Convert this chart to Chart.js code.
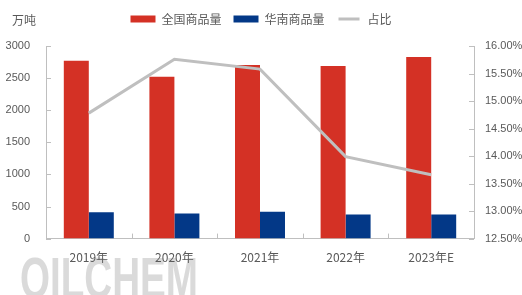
<!DOCTYPE html>
<html>
<head>
<meta charset="utf-8">
<script src="https://cdn.jsdelivr.net/npm/chart.js@4"></script>
<style>
  html, body { margin: 0; padding: 0; background: #fff; }
  #wrap { width: 522px; height: 295px; position: relative; }
</style>
</head>
<body>
<div id="wrap"><canvas id="chart"></canvas></div>
<script>
// data
const years = ['2019年', '2020年', '2021年', '2022年', '2023年E'];
const nationalVolume = [2770, 2520, 2705, 2690, 2830];
const southChinaVolume = [410, 390, 420, 375, 375];
const shareRatio = [14.78, 15.76, 15.58, 13.99, 13.66];

const TEXT = '#595959';
const AXIS = '#BFBFBF';
const numFont = { family: 'Liberation Sans, DejaVu Sans, sans-serif', size: 11 };
const cjkFont = { family: 'Noto Sans CJK SC, sans-serif', size: 12 };

// extra room under the legend
const legendGap = {
  id: 'legendGap',
  afterInit(chart) {
    const fit = chart.legend.fit;
    chart.legend.fit = function () {
      fit.call(this);
      this.height += 11;
    };
  }
};

// small inward tick marks, plus the unit label and the watermark
const decorations = {
  id: 'decorations',
  beforeDraw(chart) {
    const c = chart.ctx;
    c.save();
    c.font = 'bold 58px Liberation Sans, Arial, sans-serif';
    const w = c.measureText('OILCHEM').width;
    const g = c.createLinearGradient(0, 240, 0, 284);
    g.addColorStop(0, '#dadada');
    g.addColorStop(1, '#f8f8f8');
    c.fillStyle = g;
    c.translate(20, 282);
    c.scale(178 / w, 1);
    c.fillText('OILCHEM', 0, 0);
    c.restore();
  },
  afterDraw(chart) {
    const c = chart.ctx;
    const { y, y1 } = chart.scales;
    const area = chart.chartArea;
    c.save();
    c.strokeStyle = AXIS;
    c.lineWidth = 1;
    c.beginPath();
    y.ticks.forEach((t, i) => {
      const py = Math.round(y.getPixelForTick(i)) + 0.5;
      c.moveTo(area.left, py); c.lineTo(area.left + 5, py);
    });
    y1.ticks.forEach((t, i) => {
      const py = Math.round(y1.getPixelForTick(i)) + 0.5;
      c.moveTo(area.right - 5, py); c.lineTo(area.right, py);
    });
    const step = (area.right - area.left) / years.length;
    for (let i = 1; i < years.length; i++) {
      const px = Math.round(area.left + step * i) + 0.5;
      c.moveTo(px, area.bottom); c.lineTo(px, area.bottom - 5);
    }
    c.stroke();
    c.fillStyle = TEXT;
    c.font = '12px Noto Sans CJK SC, sans-serif';
    c.textBaseline = 'middle';
    c.fillText('万吨', 12, 20);
    c.restore();
  }
};

new Chart(document.getElementById('chart'), {
  type: 'bar',
  data: {
    labels: years,
    datasets: [
      {
        label: '全国商品量',
        data: nationalVolume,
        backgroundColor: '#D43125',
        yAxisID: 'y',
        order: 2
      },
      {
        label: '华南商品量',
        data: southChinaVolume,
        backgroundColor: '#033887',
        yAxisID: 'y',
        order: 2
      },
      {
        type: 'line',
        label: '占比',
        data: shareRatio,
        borderColor: AXIS,
        backgroundColor: AXIS,
        borderWidth: 3,
        pointRadius: 0,
        tension: 0,
        yAxisID: 'y1',
        order: 1
      }
    ]
  },
  options: {
    responsive: true,
    maintainAspectRatio: false,
    animation: false,
    devicePixelRatio: 1,
    layout: { padding: { top: 1, bottom: 18, left: 0, right: 0 } },
    datasets: { bar: { categoryPercentage: 0.584, barPercentage: 1 } },
    plugins: {
      tooltip: { enabled: false },
      legend: {
        position: 'top',
        labels: {
          color: TEXT,
          font: cjkFont,
          boxWidth: 25,
          boxHeight: 7,
          padding: 12,
          sort: (a, b) => a.datasetIndex - b.datasetIndex,
          generateLabels(chart) {
            const items = Chart.defaults.plugins.legend.labels.generateLabels(chart);
            items.forEach(it => {
              if (it.text === '占比') { it.strokeStyle = '#fff'; it.lineWidth = 4; }
              else { it.lineWidth = 0; }
            });
            return items;
          }
        }
      }
    },
    scales: {
      x: {
        grid: { display: false, drawTicks: false },
        border: { color: AXIS },
        ticks: { color: TEXT, font: cjkFont, padding: 12 }
      },
      y: {
        position: 'left',
        min: 0,
        max: 3000,
        afterFit(s) { s.width = 46; },
        grid: { display: false, drawTicks: false },
        border: { color: AXIS },
        ticks: { stepSize: 500, color: TEXT, font: numFont, padding: 16, callback: v => String(v) }
      },
      y1: {
        position: 'right',
        min: 12.5,
        max: 16,
        afterFit(s) { s.width = 48; },
        grid: { display: false, drawTicks: false },
        border: { color: AXIS },
        ticks: {
          stepSize: 0.5,
          color: TEXT,
          font: numFont,
          padding: 11,
          callback: v => v.toFixed(2) + '%'
        }
      }
    }
  },
  plugins: [legendGap, decorations]
});
</script>
</body>
</html>
